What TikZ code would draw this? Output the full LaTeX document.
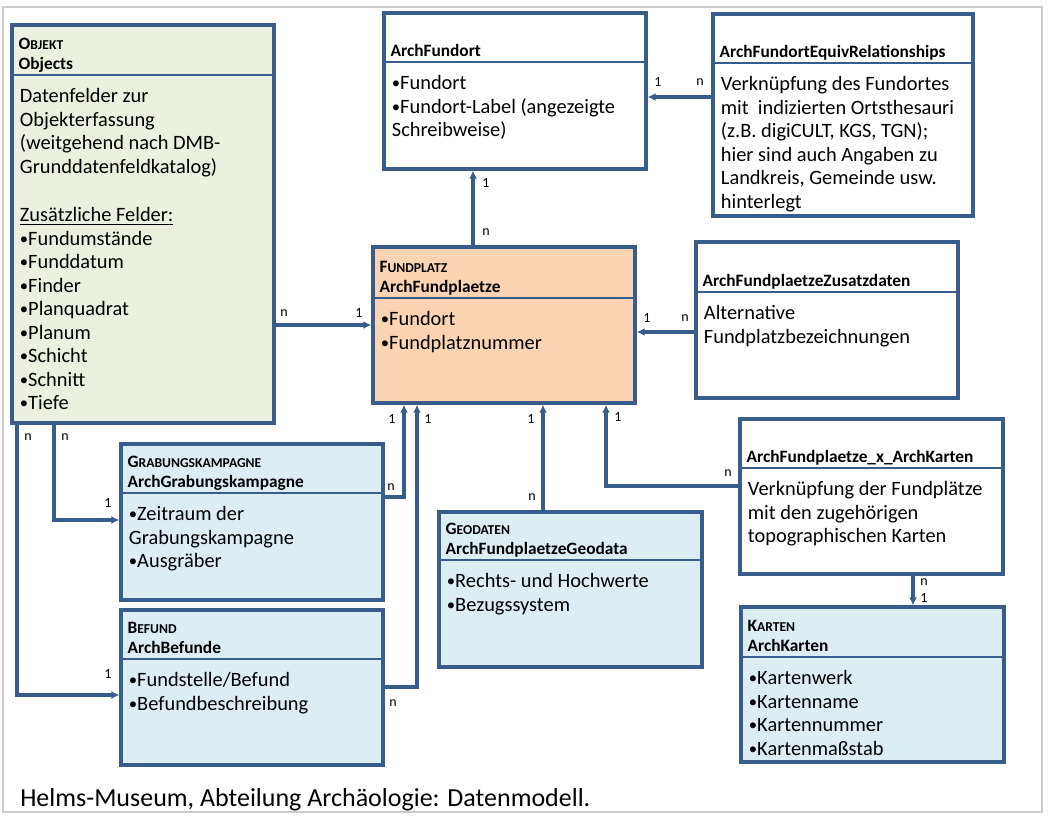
\documentclass[tikz,border=0pt]{standalone}
\usepackage{fontspec}
\setmainfont{Carlito}
\usetikzlibrary{arrows.meta,fit,positioning}
\definecolor{umlblue}{RGB}{56,93,138}
\definecolor{objgreen}{RGB}{235,241,222}
\definecolor{fpeach}{RGB}{251,212,180}
\definecolor{lblue}{RGB}{219,238,244}
% small caps by hand: big first letter, rest smaller
\newcommand{\ksc}[2]{#1{\fontsize{10.2}{12}\selectfont#2}}
% small bullet as in the slide
\newcommand{\bul}{\raisebox{0.1ex}{\fontsize{12.5}{12}\selectfont•}}
\begin{document}
\begin{tikzpicture}[x=0.75pt,y=-0.75pt,>={Latex[length=6pt,width=6pt]},
	box/.style={draw=umlblue,line width=2.5pt,inner sep=0pt,fill=white},
	divider/.style={draw=umlblue,line width=2pt},
	hdr/.style={anchor=south west,align=left,inner xsep=6pt,inner ysep=1pt,text depth=3pt,font=\fontsize{13}{15}\selectfont\bfseries},
	bdy/.style={anchor=north west,align=left,inner xsep=7pt,inner ysep=10pt,font=\fontsize{15.3}{17.6}\selectfont},
	rel/.style={draw=umlblue,line width=2.5pt,->},
	card/.style={inner sep=0pt,font=\fontsize{10.5}{12}\selectfont}]
	\useasboundingbox (0,0) rectangle (1048,815);
	\draw[gray!40,line width=1.5pt] (3,7) rectangle (1042,812);
	% boxes
	\node[box,fill=objgreen,fit={(12,25)(274,423)}] (objekt) {};
	\node[box,fit={(384,13)(646,169)}] (fundort) {};
	\node[box,fit={(713,14)(973,216)}] (equiv) {};
	\node[box,fill=fpeach,fit={(373,247)(635,403)}] (fundplatz) {};
	\node[box,fit={(696,242)(958,398)}] (zusatz) {};
	\node[box,fill=lblue,fit={(121,444)(383,600)}] (grabung) {};
	\node[box,fill=lblue,fit={(121,610)(383,765)}] (befund) {};
	\node[box,fill=lblue,fit={(439,512)(702,667)}] (geodaten) {};
	\node[box,fit={(740,419)(1003,574)}] (xkarten) {};
	\node[box,fill=lblue,fit={(741,607)(1004,762)}] (karten) {};
	\foreach \b/\y in {objekt/75,fundort/62,equiv/63,fundplatz/298,zusatz/292,grabung/493,befund/659,geodaten/560,xkarten/468,karten/657}
	\draw[divider] (\b.west |- 0,\y) -- (\b.east |- 0,\y);
	% header texts
	\node[hdr] (objekt-h) at (objekt.west |- 0,75) {\ksc{O}{BJEKT}\\Objects};
	\node[hdr] (fundort-h) at (fundort.west |- 0,62) {ArchFundort};
	\node[hdr] (equiv-h) at (equiv.west |- 0,63) {ArchFundortEquivRelationships};
	\node[hdr] (fundplatz-h) at (fundplatz.west |- 0,298) {\ksc{F}{UNDPLATZ}\\ArchFundplaetze};
	\node[hdr] (zusatz-h) at (zusatz.west |- 0,292) {ArchFundplaetzeZusatzdaten};
	\node[hdr] (grabung-h) at (grabung.west |- 0,493) {\ksc{G}{RABUNGSKAMPAGNE}\\ArchGrabungskampagne};
	\node[hdr] (befund-h) at (befund.west |- 0,659) {\ksc{B}{EFUND}\\ArchBefunde};
	\node[hdr] (geodaten-h) at (geodaten.west |- 0,560) {\ksc{G}{EODATEN}\\ArchFundplaetzeGeodata};
	\node[hdr] (xkarten-h) at (xkarten.west |- 0,468) {ArchFundplaetze\_x\_ArchKarten};
	\node[hdr] (karten-h) at (karten.west |- 0,657) {\ksc{K}{ARTEN}\\ArchKarten};
	% body texts
	\node[bdy] (objekt-b) at (objekt.west |- 0,75) {Datenfelder zur\\Objekterfassung\\(weitgehend nach DMB-\\Grunddatenfeldkatalog)\\[19pt]\underline{Zusätzliche Felder:}\\\bul Fundumstände\\\bul Funddatum\\\bul Finder\\\bul Planquadrat\\\bul Planum\\\bul Schicht\\\bul Schnitt\\\bul Tiefe};
	\node[bdy] (fundort-b) at (fundort.west |- 0,62) {\bul Fundort\\\bul Fundort-Label (angezeigte\\Schreibweise)};
	\node[bdy] (equiv-b) at (equiv.west |- 0,63) {Verknüpfung des Fundortes\\mit\ \ indizierten Ortsthesauri\\(z.B. digiCULT, KGS, TGN);\\hier sind auch Angaben zu\\Landkreis, Gemeinde usw.\\hinterlegt};
	\node[bdy] (fundplatz-b) at (fundplatz.west |- 0,298) {\bul Fundort\\\bul Fundplatznummer};
	\node[bdy] (zusatz-b) at (zusatz.west |- 0,292) {Alternative\\Fundplatzbezeichnungen};
	\node[bdy] (grabung-b) at (grabung.west |- 0,493) {\bul Zeitraum der\\Grabungskampagne\\\bul Ausgräber};
	\node[bdy] (befund-b) at (befund.west |- 0,659) {\bul Fundstelle/Befund\\\bul Befundbeschreibung};
	\node[bdy] (geodaten-b) at (geodaten.west |- 0,560) {\bul Rechts- und Hochwerte\\\bul Bezugssystem};
	\node[bdy] (xkarten-b) at (xkarten.west |- 0,468) {Verknüpfung der Fundplätze\\mit den zugehörigen\\topographischen Karten};
	\node[bdy] (karten-b) at (karten.west |- 0,657) {\bul Kartenwerk\\\bul Kartenname\\\bul Kartennummer\\\bul Kartenmaßstab};
	% relations
	\draw[rel] (equiv.west |- 0,97) -- (fundort.east |- 0,97);
	\draw[rel] (473,0 |- fundplatz.north) -- (473,0 |- fundort.south);
	\draw[rel] (objekt.east |- 0,325) -- (fundplatz.west |- 0,325);
	\draw[rel] (zusatz.west |- 0,332) -- (fundplatz.east |- 0,332);
	\draw[rel] (17,0 |- objekt.south) |- (befund.west |- 0,695);
	\draw[rel] (54,0 |- objekt.south) |- (grabung.west |- 0,520);
	\draw[rel] (grabung.east |- 0,497) -| (404,0 |- fundplatz.south);
	\draw[rel] (befund.east |- 0,687) -| (417,0 |- fundplatz.south);
	\draw[rel] (543,0 |- geodaten.north) -- (543,0 |- fundplatz.south);
	\draw[rel] (xkarten.west |- 0,486) -| (606,0 |- fundplatz.south);
	\draw[rel] (913,0 |- xkarten.south) -- (913,0 |- karten.north);
	\foreach \t/\x/\y [count=\i] in {1/658/82,n/700/82,1/486/183,n/486/232,n/284/313,1/359/313,1/647/318,n/685/318,n/28/437,n/65/437,1/108/674,1/108/503,n/391/487,n/393/703,1/392/419,1/428/419,1/531/419,1/618/417,n/532/497,n/728/473,n/924/582,1/924/598}
	\node[card] (c\i) at (\x,\y) {\t};
	\node[anchor=base west,inner sep=0pt,font=\fontsize{19.5}{23}\selectfont] (caption) at (20,806) {Helms-Museum, Abteilung Archäologie: Datenmodell.};
\end{tikzpicture}
\end{document}
